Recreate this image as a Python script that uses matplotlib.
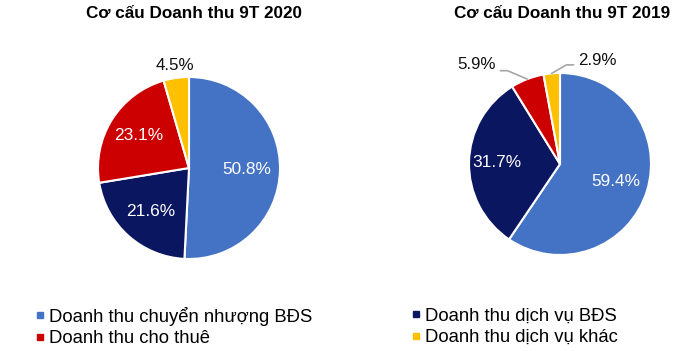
import matplotlib
matplotlib.use("Agg")
import matplotlib.pyplot as plt
import numpy as np
from matplotlib.lines import Line2D

plt.rcParams['font.family'] = ['Liberation Sans', 'DejaVu Sans']

categories = ["Doanh thu chuyển nhượng BĐS", "Doanh thu dịch vụ BĐS",
              "Doanh thu cho thuê", "Doanh thu dịch vụ khác"]
colors = ["#4472C4", "#0B1660", "#CC0000", "#FFC000"]
values_2020 = [50.8, 21.6, 23.1, 4.5]
values_2019 = [59.4, 31.7, 5.9, 2.9]
titles = ["Cơ cấu Doanh thu 9T 2020", "Cơ cấu Doanh thu 9T 2019"]

W, H = 680, 351
fig = plt.figure(figsize=(W / 100, H / 100), dpi=100)
fig.patch.set_facecolor("white")


def make_axes(cx, cy, r):
    return fig.add_axes([(cx - r) / W, (H - cy - r) / H, 2 * r / W, 2 * r / H])


def draw_pie(ax, vals, inside, outside):
    wedges, _ = ax.pie(vals, colors=colors, startangle=90, counterclock=False,
                       wedgeprops=dict(edgecolor="white", linewidth=1.5))
    ax.set_xlim(-1, 1)
    ax.set_ylim(-1, 1)
    ax.set_aspect("equal")
    ax.axis("off")
    for i, w in enumerate(wedges):
        ang = np.deg2rad((w.theta1 + w.theta2) / 2)
        lab = f"{vals[i]:.1f}%"
        if i in inside:
            d = inside[i]
            ax.text(d * np.cos(ang), d * np.sin(ang), lab, ha="center", va="center",
                    color="white", fontsize=12.4)
        elif i in outside:
            pos, leader = outside[i]
            if leader is not None:
                relpos, angB = leader
                ax.annotate(lab, xy=(1.0 * np.cos(ang), 1.0 * np.sin(ang)), xytext=pos,
                            ha="center", va="center", fontsize=12.2, color="#111111",
                            arrowprops=dict(arrowstyle="-", color="#A6A6A6", lw=1.2,
                                            relpos=relpos, patchA=None,
                                            shrinkA=3, shrinkB=0,
                                            connectionstyle=f"angle,angleA=0,angleB={angB},rad=0"))
            else:
                ax.text(pos[0], pos[1], lab, ha="center", va="center",
                        fontsize=12.2, color="#111111")


ax1 = make_axes(189, 168, 91)
draw_pie(ax1, values_2020, {0: 0.63, 1: 0.64, 2: 0.66}, {3: ((-0.15, 1.13), None)})
ax2 = make_axes(560, 164, 91)
draw_pie(ax2, values_2019, {0: 0.64, 1: 0.69},
         {2: ((-0.912, 1.088), ((1.0, 0.12), 157)),
          3: ((0.407, 1.132), ((0.0, 0.24), 30))})

fig.text(194 / W, 1 - 14 / H, titles[0], ha="center", va="center",
         fontsize=12.3, fontweight="bold", color="black")
fig.text(562 / W, 1 - 14 / H, titles[1], ha="center", va="center",
         fontsize=12.3, fontweight="bold", color="black")


def col_legend(idx, x0):
    handles = [Line2D([], [], linestyle="none", marker="s", markersize=4.2,
                      markerfacecolor=colors[i], markeredgecolor=colors[i]) for i in idx]
    labels = [categories[i] for i in idx]
    leg = fig.legend(handles, labels, ncol=1, loc="center left",
                     bbox_to_anchor=(x0 / W, 1 - 327 / H), frameon=False, fontsize=13.3,
                     handlelength=0.6, handletextpad=0.2,
                     labelspacing=0.25, borderaxespad=0, borderpad=0)
    for t in leg.get_texts():
        t.set_color("black")
    return leg


col_legend([0, 2], 34.2)
col_legend([1, 3], 410.2)

fig.savefig("out.png", dpi=100, facecolor="white")
